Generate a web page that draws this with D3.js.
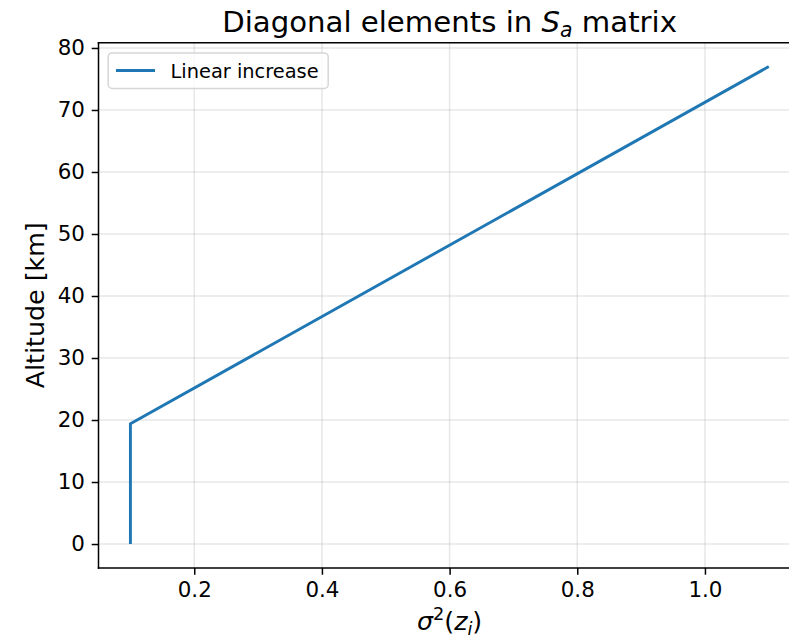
<!DOCTYPE html>
<html><head><meta charset="utf-8">
<script src="https://cdn.jsdelivr.net/npm/d3@7/dist/d3.min.js"></script>
<style>body{margin:0;background:#fff}svg{display:block}text{font-family:"DejaVu Sans",sans-serif}</style>
</head><body><svg id="c" width="789" height="641"></svg>
<script>
const altitudes = [0, 19.4, 77];
const variances = [0.1, 0.1, 1.1];
const xTicks = [0.2, 0.4, 0.6, 0.8, 1.0];
const yTicks = [0, 10, 20, 30, 40, 50, 60, 70, 80];
const seriesName = "Linear increase";

const svg = d3.select("#c");
const L = 98.5, R = 800.7, T = 42.7, B = 567.9;
const x = d3.scaleLinear().domain([0.05, 1.15]).range([L, R]);
const y = d3.scaleLinear().domain([-3.85, 80.85]).range([B, T]);

// grid
const g = svg.append("g");
g.selectAll(".gx").data(xTicks).join("line")
  .attr("x1", d => x(d)).attr("x2", d => x(d)).attr("y1", T).attr("y2", B)
  .attr("stroke", "#b0b0b0").attr("stroke-opacity", 0.3).attr("stroke-width", 1.5);
g.selectAll(".gy").data(yTicks).join("line")
  .attr("y1", d => y(d)).attr("y2", d => y(d)).attr("x1", L).attr("x2", R)
  .attr("stroke", "#b0b0b0").attr("stroke-opacity", 0.3).attr("stroke-width", 1.5);

// line
const pts = altitudes.map((a, i) => [variances[i], a]);
svg.append("path").datum(pts)
  .attr("d", d3.line().x(d => x(d[0])).y(d => y(d[1])))
  .attr("fill", "none").attr("stroke", "#1f77b4").attr("stroke-width", 2.9)
  .attr("stroke-linejoin", "round");

// axes
const xa = svg.append("g").attr("transform", `translate(0,${B})`)
  .call(d3.axisBottom(x).tickValues(xTicks).tickFormat(d3.format(".1f")).tickSize(6.8).tickSizeOuter(0).tickPadding(6.8));
const ya = svg.append("g").attr("transform", `translate(${L},0)`)
  .call(d3.axisLeft(y).tickValues(yTicks).tickSize(6.8).tickSizeOuter(0).tickPadding(6.8));
[xa, ya].forEach(a => {
  a.select(".domain").remove();
  a.selectAll("line").attr("stroke", "#000").attr("stroke-width", 1.5);
  a.selectAll("text").attr("font-size", 21.4).attr("fill", "#000").style("font-family", "DejaVu Sans");
});
// spines
[[L, T, L, B], [L, B, R, B], [L, T, R, T], [R, T, R, B]].forEach(s =>
  svg.append("line").attr("x1", s[0]).attr("y1", s[1]).attr("x2", s[2]).attr("y2", s[3])
    .attr("stroke", "#000").attr("stroke-width", 1.5).attr("stroke-linecap", "square"));

// title
const cx = (L + R) / 2;
const t = svg.append("text").attr("x", cx).attr("y", 31.5).attr("text-anchor", "middle").attr("font-size", 29.2).attr("fill", "#000");
t.append("tspan").text("Diagonal elements in ");
t.append("tspan").attr("font-style", "italic").text("S");
t.append("tspan").attr("font-style", "italic").attr("font-size", 20.4).attr("dy", 5).text("a");
t.append("tspan").attr("dy", -5).text(" matrix");

// x label
const xl = svg.append("text").attr("x", cx).attr("y", 630).attr("text-anchor", "middle").attr("font-size", 25.3).attr("fill", "#000");
xl.append("tspan").attr("font-style", "italic").text("σ");
xl.append("tspan").attr("font-size", 17.7).attr("dy", -10).text("2");
xl.append("tspan").attr("dy", 10).text("(");
xl.append("tspan").attr("font-style", "italic").text("z");
xl.append("tspan").attr("font-style", "italic").attr("font-size", 17.7).attr("dy", 5).text("i");
xl.append("tspan").attr("dy", -5).text(")");

// y label
svg.append("text").attr("transform", `translate(43.5,${(T + B) / 2}) rotate(-90)`)
  .attr("text-anchor", "middle").attr("font-size", 25.3).attr("fill", "#000").text("Altitude [km]");

// legend
const lg = svg.append("g");
lg.append("rect").attr("x", 108.2).attr("y", 52.9).attr("width", 220).attr("height", 35.5).attr("rx", 4)
  .attr("fill", "#fff").attr("fill-opacity", 0.8).attr("stroke", "#cccccc").attr("stroke-opacity", 0.8).attr("stroke-width", 1.5);
lg.append("line").attr("x1", 116).attr("x2", 155).attr("y1", 70.5).attr("y2", 70.5).attr("stroke", "#1f77b4").attr("stroke-width", 2.9);
lg.append("text").attr("x", 170.5).attr("y", 77.5).attr("font-size", 19.4).attr("fill", "#000").text(seriesName);
</script></body></html>
